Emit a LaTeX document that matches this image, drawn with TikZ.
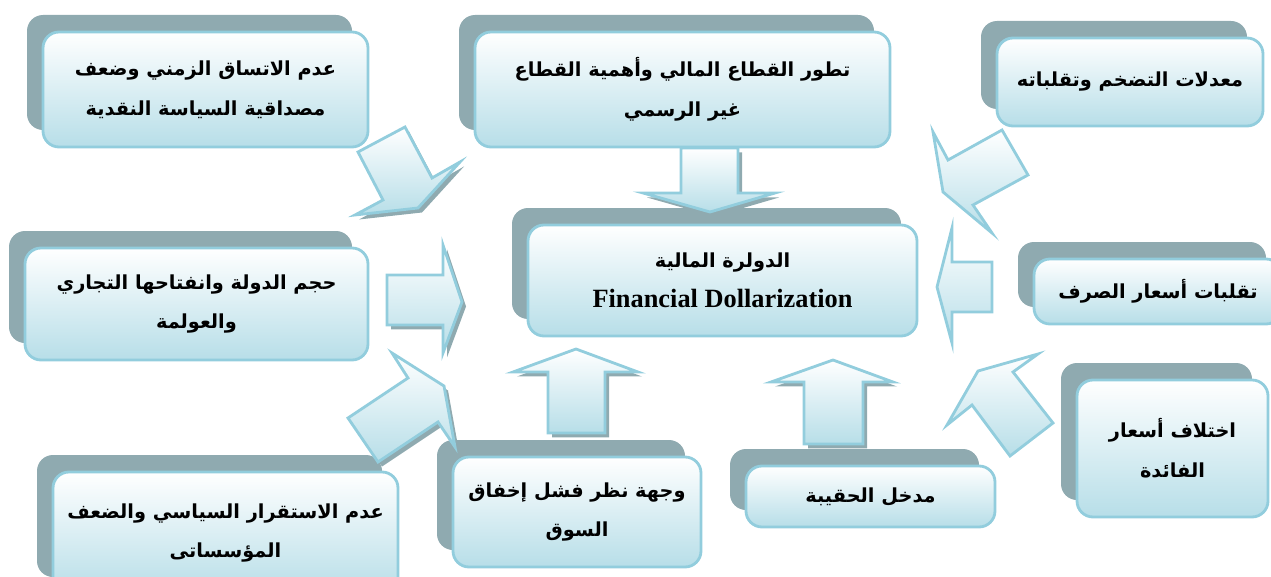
\documentclass[tikz,border=0pt]{standalone}
\usepackage{fontspec}
\setmainfont{Liberation Serif}
\newfontfamily\arabicfont[Script=Arabic]{DejaVu Sans}
\usetikzlibrary{shadows}
\TeXXeTstate=1
\newcommand{\artxt}[1]{\beginR #1\endR}
\definecolor{edgeblue}{RGB}{146,205,221}
\definecolor{fillblue}{RGB}{183,222,232}
\definecolor{backgray}{RGB}{143,170,176}

\begin{document}
\begin{tikzpicture}[x=0.02cm, y=-0.02cm,
    factor/.style = {draw=edgeblue, line width=1.6pt, rounded corners=0.32cm,
        top color=white, bottom color=fillblue, align=center, inner sep=2pt,
        font=\arabicfont\bfseries\fontsize{11}{22.7}\selectfont,
        general shadow={fill=backgray, shadow xshift=-0.32cm, shadow yshift=0.34cm}},
    blockarrow/.style = {draw=edgeblue, line width=1.6pt, top color=white, bottom color=fillblue},
    dropshadow/.style = {general shadow={fill=backgray, shadow xshift=0.08cm, shadow yshift=-0.09cm}}]
    \useasboundingbox (0,0) rectangle (1271,577);
    % factors
    \node[factor, minimum width=325*0.02cm, minimum height=115*0.02cm] (credib) at (205.5,89.5)
        {\artxt{عدم الاتساق الزمني وضعف}\\ \artxt{مصداقية السياسة النقدية}};
    \node[factor, minimum width=415*0.02cm, minimum height=115*0.02cm] (sector) at (682.5,89.5)
        {\artxt{تطور القطاع المالي وأهمية القطاع}\\ \artxt{غير الرسمي}};
    \node[factor, minimum width=266*0.02cm, minimum height=88*0.02cm] (inflat) at (1130,82)
        {\artxt{معدلات التضخم وتقلباته}};
    \node[factor, minimum width=343*0.02cm, minimum height=112*0.02cm] (openness) at (196.5,304)
        {\artxt{حجم الدولة وانفتاحها التجاري}\\ \artxt{والعولمة}};
    \node[factor, minimum width=389*0.02cm, minimum height=111*0.02cm] (dollar) at (722.5,280.5)
        {\artxt{الدولرة المالية}\\ {\normalfont\bfseries\fontsize{15}{22.7}\selectfont Financial Dollarization}};
    \node[factor, minimum width=248*0.02cm, minimum height=65*0.02cm] (exchange) at (1158,291.5)
        {\artxt{تقلبات أسعار الصرف}};
    \node[factor, minimum width=345*0.02cm, minimum height=122*0.02cm] (politics) at (225.5,533)
        {\artxt{عدم الاستقرار السياسي والضعف}\\ \artxt{المؤسساتى}};
    \node[factor, minimum width=248*0.02cm, minimum height=110*0.02cm] (market) at (577,512)
        {\artxt{وجهة نظر فشل إخفاق}\\ \artxt{السوق}};
    \node[factor, minimum width=249*0.02cm, minimum height=61*0.02cm] (portfolio) at (870.5,496.5)
        {\artxt{مدخل الحقيبة}};
    \node[factor, minimum width=191*0.02cm, minimum height=137*0.02cm] (interest) at (1172.5,448.5)
        {\artxt{اختلاف أسعار}\\ \artxt{الفائدة}};
    % block arrows towards the centre
    \draw[blockarrow, dropshadow] (358,152) -- (405,127) -- (432,178) -- (460,162) -- (418,208) -- (355,215) -- (383,200) -- cycle;
    \draw[blockarrow, dropshadow] (681,148) -- (738,148) -- (738,193) -- (775,193) -- (710,212) -- (643,193) -- (681,193) -- cycle;
    \draw[blockarrow] (933,132) -- (948,160) -- (1002,130) -- (1028,175) -- (973,205) -- (992,233) -- (943,192) -- cycle;
    \draw[blockarrow] (937,287) -- (952,228) -- (952,262) -- (992,262) -- (992,312) -- (952,312) -- (952,343) -- cycle;
    \draw[blockarrow, dropshadow] (387,275) -- (443,275) -- (443,245) -- (462,302) -- (443,353) -- (443,325) -- (387,325) -- cycle;
    \draw[blockarrow, dropshadow] (348,418) -- (408,378) -- (392,353) -- (444,386) -- (455,447) -- (438,422) -- (378,462) -- cycle;
    \draw[blockarrow] (1038,354) -- (1013,372) -- (1053,423) -- (1010,456) -- (972,405) -- (947,425) -- (978,371) -- cycle;
    \draw[blockarrow, dropshadow] (576,349) -- (638,372) -- (605,372) -- (605,433) -- (548,433) -- (548,372) -- (513,372) -- cycle;
    \draw[blockarrow, dropshadow] (833,360) -- (893,382) -- (863,382) -- (863,444) -- (804,444) -- (804,382) -- (771,382) -- cycle;
\end{tikzpicture}
\end{document}
